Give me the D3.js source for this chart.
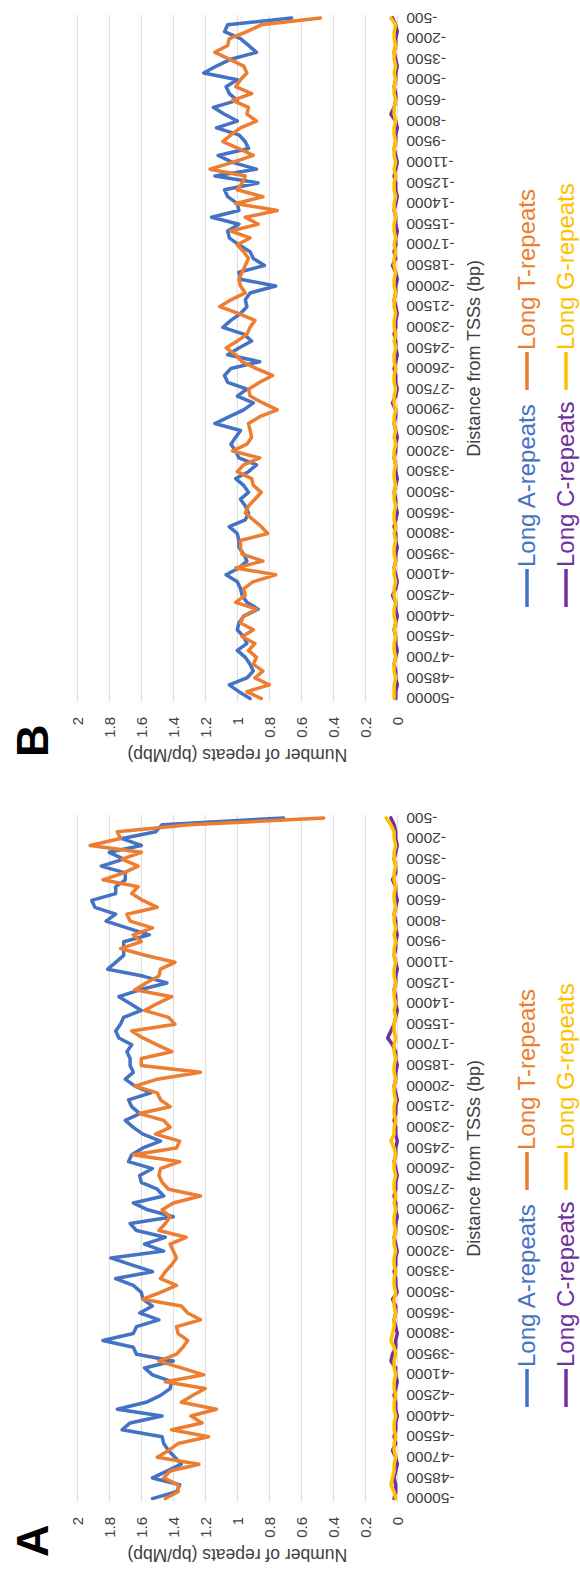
<!DOCTYPE html>
<html>
<head>
<meta charset="utf-8">
<script src="https://cdn.jsdelivr.net/npm/d3@7"></script>
<style>
  body { margin: 0; background: #fff; }
  text { font-family: "Liberation Sans", Arial, Helvetica, sans-serif; }
</style>
</head>
<body>
<div id="chart"></div>
<script>
// All series run outward from the TSS: first value is -500, last is -50000
var categories = [
  -500,-1000,-1500,-2000,-2500,-3000,-3500,-4000,-4500,-5000,
  -5500,-6000,-6500,-7000,-7500,-8000,-8500,-9000,-9500,-10000,
  -10500,-11000,-11500,-12000,-12500,-13000,-13500,-14000,-14500,-15000,
  -15500,-16000,-16500,-17000,-17500,-18000,-18500,-19000,-19500,-20000,
  -20500,-21000,-21500,-22000,-22500,-23000,-23500,-24000,-24500,-25000,
  -25500,-26000,-26500,-27000,-27500,-28000,-28500,-29000,-29500,-30000,
  -30500,-31000,-31500,-32000,-32500,-33000,-33500,-34000,-34500,-35000,
  -35500,-36000,-36500,-37000,-37500,-38000,-38500,-39000,-39500,-40000,
  -40500,-41000,-41500,-42000,-42500,-43000,-43500,-44000,-44500,-45000,
  -45500,-46000,-46500,-47000,-47500,-48000,-48500,-49000,-49500,-50000
];

var xTickLabels = [-500,-2000,-3500,-5000,-6500,-8000,-9500,-11000,-12500,-14000,
  -15500,-17000,-18500,-20000,-21500,-23000,-24500,-26000,-27500,-29000,-30500,
  -32000,-33500,-35000,-36500,-38000,-39500,-41000,-42500,-44000,-45500,-47000,
  -48500,-50000];

var yTicks = [0, 0.2, 0.4, 0.6, 0.8, 1, 1.2, 1.4, 1.6, 1.8, 2];

var seriesNames = ['Long A-repeats', 'Long T-repeats', 'Long C-repeats', 'Long G-repeats'];
var seriesColors = ['#4472C4', '#ED7D31', '#7030A0', '#FFC000'];

// panel A
var aLongA = [
  0.71,1.47,1.51,1.72,1.60,1.80,1.71,1.85,1.70,1.70,
  1.76,1.76,1.91,1.89,1.76,1.82,1.69,1.55,1.71,1.71,
  1.71,1.76,1.81,1.59,1.44,1.61,1.74,1.67,1.60,1.71,
  1.73,1.76,1.74,1.66,1.69,1.67,1.67,1.65,1.70,1.64,
  1.54,1.68,1.66,1.61,1.70,1.65,1.59,1.48,1.59,1.66,
  1.68,1.53,1.61,1.60,1.50,1.46,1.65,1.56,1.40,1.67,
  1.63,1.45,1.58,1.46,1.79,1.66,1.53,1.76,1.65,1.60,
  1.59,1.53,1.61,1.49,1.63,1.65,1.84,1.65,1.63,1.40,
  1.58,1.53,1.41,1.42,1.48,1.57,1.75,1.47,1.67,1.72,
  1.47,1.46,1.43,1.39,1.35,1.44,1.53,1.36,1.38,1.53
];
var aLongT = [
  0.46,1.30,1.75,1.73,1.92,1.60,1.72,1.62,1.71,1.84,
  1.62,1.66,1.59,1.50,1.69,1.67,1.53,1.65,1.60,1.73,
  1.57,1.39,1.48,1.49,1.57,1.64,1.41,1.50,1.58,1.43,
  1.39,1.66,1.59,1.50,1.41,1.60,1.60,1.23,1.50,1.64,
  1.50,1.48,1.42,1.61,1.46,1.42,1.51,1.36,1.38,1.65,
  1.36,1.48,1.49,1.47,1.43,1.23,1.40,1.47,1.42,1.45,
  1.49,1.32,1.42,1.40,1.38,1.41,1.45,1.48,1.38,1.48,
  1.59,1.35,1.31,1.23,1.38,1.37,1.31,1.34,1.38,1.49,
  1.35,1.21,1.45,1.20,1.28,1.35,1.13,1.29,1.22,1.41,
  1.18,1.37,1.43,1.50,1.24,1.42,1.46,1.37,1.37,1.45
];
var aLongC = [
  0.04,0.02,0.01,0.01,0.00,0.01,0.02,0.01,0.01,0.03,
  0.01,0.01,0.00,0.01,0.02,0.01,0.01,0.00,0.01,0.01,
  0.02,0.01,0.00,0.01,0.01,0.02,0.01,0.01,0.00,0.01,
  0.02,0.04,0.06,0.03,0.01,0.01,0.00,0.01,0.01,0.02,
  0.01,0.00,0.01,0.01,0.02,0.01,0.01,0.00,0.01,0.01,
  0.02,0.01,0.00,0.01,0.01,0.02,0.01,0.01,0.00,0.01,
  0.01,0.02,0.01,0.00,0.01,0.01,0.02,0.01,0.01,0.00,
  0.03,0.01,0.01,0.02,0.01,0.00,0.01,0.01,0.03,0.04,
  0.01,0.01,0.00,0.01,0.02,0.01,0.01,0.00,0.01,0.01,
  0.02,0.01,0.03,0.01,0.00,0.01,0.02,0.01,0.01,0.02
];
var aLongG = [
  0.07,0.04,0.02,0.02,0.01,0.02,0.02,0.01,0.02,0.02,
  0.01,0.02,0.02,0.01,0.02,0.02,0.01,0.02,0.01,0.02,
  0.02,0.01,0.02,0.02,0.01,0.02,0.02,0.01,0.02,0.01,
  0.02,0.02,0.01,0.02,0.02,0.01,0.02,0.02,0.01,0.02,
  0.02,0.01,0.02,0.02,0.01,0.02,0.02,0.04,0.02,0.01,
  0.02,0.02,0.01,0.02,0.02,0.01,0.02,0.01,0.02,0.02,
  0.01,0.02,0.02,0.01,0.02,0.02,0.01,0.02,0.02,0.01,
  0.02,0.02,0.01,0.02,0.02,0.03,0.04,0.02,0.01,0.02,
  0.02,0.01,0.02,0.02,0.01,0.02,0.02,0.01,0.02,0.02,
  0.01,0.02,0.02,0.01,0.02,0.02,0.03,0.04,0.02,0.01
];

// panel B
var bLongA = [
  0.66,1.06,1.08,0.98,0.93,0.88,1.04,1.13,1.21,1.00,
  1.07,1.05,1.00,1.15,1.08,1.00,1.13,0.99,0.95,0.93,
  1.12,1.03,0.88,1.14,0.87,1.08,1.06,1.00,0.99,1.16,
  0.99,1.06,1.05,0.99,0.92,0.90,0.83,0.99,0.98,0.76,
  0.92,0.95,0.94,0.98,1.04,1.09,0.96,0.91,0.99,1.06,
  0.86,1.04,1.08,1.06,0.94,1.00,0.90,0.96,1.05,1.14,
  0.98,1.01,1.04,1.01,0.99,0.88,0.93,1.01,0.96,0.93,
  0.98,0.95,0.93,0.95,1.05,1.00,0.99,0.99,0.96,0.94,
  0.99,1.07,1.00,0.98,0.97,0.94,0.87,0.96,0.99,1.00,
  0.96,0.94,1.00,0.95,0.92,0.90,0.94,1.05,0.99,0.92
];
var bLongT = [
  0.48,0.85,0.94,1.05,1.06,1.14,1.05,0.96,0.94,0.98,
  1.01,0.91,1.03,0.93,0.94,0.88,0.98,1.04,1.09,0.99,
  0.90,1.03,1.17,0.95,0.97,1.00,0.84,1.01,0.75,0.95,
  0.87,1.04,0.92,1.00,0.96,0.93,0.95,0.97,0.99,0.98,
  0.95,1.04,1.11,0.99,0.89,0.92,0.94,1.00,1.07,1.01,
  0.97,0.88,0.78,0.86,0.93,0.92,0.84,0.75,0.86,0.93,
  0.92,0.91,0.94,1.03,0.86,0.96,1.00,0.91,0.90,0.85,
  0.89,0.93,0.95,0.90,0.85,0.81,0.98,0.98,0.97,0.84,
  1.01,0.76,0.90,0.96,0.95,1.01,0.88,0.96,0.98,0.90,
  0.97,0.89,0.93,0.88,0.90,0.84,0.89,0.80,0.94,0.85
];
var bLongC = [
  0.03,0.01,0.00,0.01,0.01,0.02,0.01,0.00,0.01,0.01,
  0.02,0.01,0.01,0.02,0.04,0.01,0.00,0.01,0.01,0.02,
  0.01,0.00,0.01,0.02,0.01,0.01,0.00,0.01,0.02,0.01,
  0.01,0.00,0.01,0.01,0.02,0.01,0.03,0.01,0.00,0.01,
  0.01,0.02,0.01,0.00,0.01,0.01,0.02,0.01,0.01,0.00,
  0.01,0.02,0.01,0.01,0.00,0.01,0.03,0.01,0.01,0.02,
  0.01,0.00,0.01,0.01,0.02,0.01,0.01,0.00,0.01,0.02,
  0.01,0.01,0.00,0.01,0.02,0.01,0.01,0.00,0.01,0.01,
  0.02,0.01,0.00,0.01,0.03,0.01,0.01,0.00,0.01,0.02,
  0.01,0.01,0.00,0.01,0.02,0.01,0.01,0.00,0.01,0.01
];
var bLongG = [
  0.04,0.01,0.02,0.02,0.01,0.02,0.02,0.01,0.02,0.01,
  0.02,0.02,0.01,0.02,0.02,0.01,0.02,0.02,0.01,0.02,
  0.02,0.01,0.02,0.01,0.02,0.02,0.01,0.02,0.02,0.01,
  0.02,0.02,0.01,0.02,0.01,0.02,0.02,0.01,0.02,0.02,
  0.01,0.02,0.02,0.01,0.02,0.02,0.01,0.02,0.01,0.02,
  0.02,0.01,0.02,0.02,0.01,0.02,0.02,0.01,0.02,0.02,
  0.01,0.02,0.01,0.02,0.02,0.01,0.02,0.02,0.01,0.02,
  0.02,0.01,0.02,0.02,0.01,0.02,0.01,0.02,0.02,0.01,
  0.02,0.02,0.01,0.02,0.02,0.01,0.02,0.02,0.01,0.02,
  0.01,0.02,0.02,0.01,0.02,0.02,0.01,0.02,0.02,0.02
];

var svgWidth = 580;
var svgHeight = 1574;

var svg = d3.select('#chart')
    .append('svg')
    .attr('width', svgWidth)
    .attr('height', svgHeight);

// the figure is laid out landscape (1574 x 580) then turned a quarter turn left
var fig = svg.append('g')
    .attr('transform', `translate(0, ${svgHeight}) rotate(-90)`);

var panels = [
    { label: 'A', offset: 0, series: [aLongA, aLongT, aLongC, aLongG] },
    { label: 'B', offset: 800, series: [bLongA, bLongT, bLongC, bLongG] }
];

var plot = { left: 72, right: 759.5, top: 77.3, bottom: 397.3 };
var textColor = '#404040';

panels.forEach(function(p) {
    var g = fig.append('g').attr('transform', `translate(${p.offset}, 0)`);

    var xScale = d3.scalePoint()
        .domain(categories.slice().sort(d3.ascending))
        .range([plot.left, plot.right])
        .padding(0.5);

    var yScale = d3.scaleLinear()
        .domain([0, 2])
        .range([plot.bottom, plot.top]);

    // gridlines
    g.selectAll('.grid')
        .data(yTicks)
        .enter()
        .append('line')
        .attr('class', 'grid')
        .attr('x1', plot.left)
        .attr('x2', plot.right)
        .attr('y1', d => yScale(d))
        .attr('y2', d => yScale(d))
        .attr('stroke', '#d9d9d9')
        .attr('stroke-width', 1);

    // y tick labels
    g.selectAll('.ytick')
        .data(yTicks)
        .enter()
        .append('text')
        .attr('class', 'ytick')
        .attr('x', plot.left - 15)
        .attr('y', d => yScale(d))
        .attr('dy', '0.35em')
        .attr('text-anchor', 'end')
        .attr('font-size', '15px')
        .attr('fill', textColor)
        .text(d => String(d));

    // x tick labels, vertical
    g.selectAll('.xtick')
        .data(xTickLabels)
        .enter()
        .append('text')
        .attr('class', 'xtick')
        .attr('transform', d => `translate(${xScale(d)}, ${plot.bottom + 9}) rotate(-90)`)
        .attr('dy', '0.35em')
        .attr('text-anchor', 'end')
        .attr('font-size', '15.5px')
        .attr('fill', textColor)
        .text(d => String(d));

    // series lines
    var line = d3.line()
        .x((d, i) => xScale(categories[i]))
        .y(d => yScale(d));

    p.series.forEach(function(values, s) {
        g.append('path')
            .datum(values)
            .attr('d', line)
            .attr('fill', 'none')
            .attr('stroke', seriesColors[s])
            .attr('stroke-width', 3.5)
            .attr('stroke-linejoin', 'round')
            .attr('stroke-linecap', 'round');
    });

    // axis titles
    g.append('text')
        .attr('transform', `translate(19, ${(plot.top + plot.bottom) / 2}) rotate(-90)`)
        .attr('dy', '0.35em')
        .attr('text-anchor', 'middle')
        .attr('font-size', '17.5px')
        .attr('fill', textColor)
        .text('Number of repeats (bp/Mbp)');

    g.append('text')
        .attr('x', (plot.left + plot.right) / 2)
        .attr('y', 474)
        .attr('dy', '0.35em')
        .attr('text-anchor', 'middle')
        .attr('font-size', '18px')
        .attr('fill', textColor)
        .text('Distance from TSSs (bp)');

    // legend, two rows of two
    var legendCols = [167, 384];
    var legendRows = [527, 566];
    seriesNames.forEach(function(name, s) {
        var lx = legendCols[s % 2];
        var ly = legendRows[Math.floor(s / 2)];
        g.append('line')
            .attr('x1', lx)
            .attr('x2', lx + 38)
            .attr('y1', ly)
            .attr('y2', ly)
            .attr('stroke', seriesColors[s])
            .attr('stroke-width', 3.5);
        g.append('text')
            .attr('x', lx + 40)
            .attr('y', ly)
            .attr('dy', '0.33em')
            .attr('font-size', '24px')
            .attr('fill', seriesColors[s])
            .text(name);
    });

    // panel letter
    g.append('text')
        .attr('x', 17)
        .attr('y', 48)
        .attr('font-size', '45px')
        .attr('font-weight', 'bold')
        .attr('fill', '#000')
        .text(p.label);
});
</script>
</body>
</html>
